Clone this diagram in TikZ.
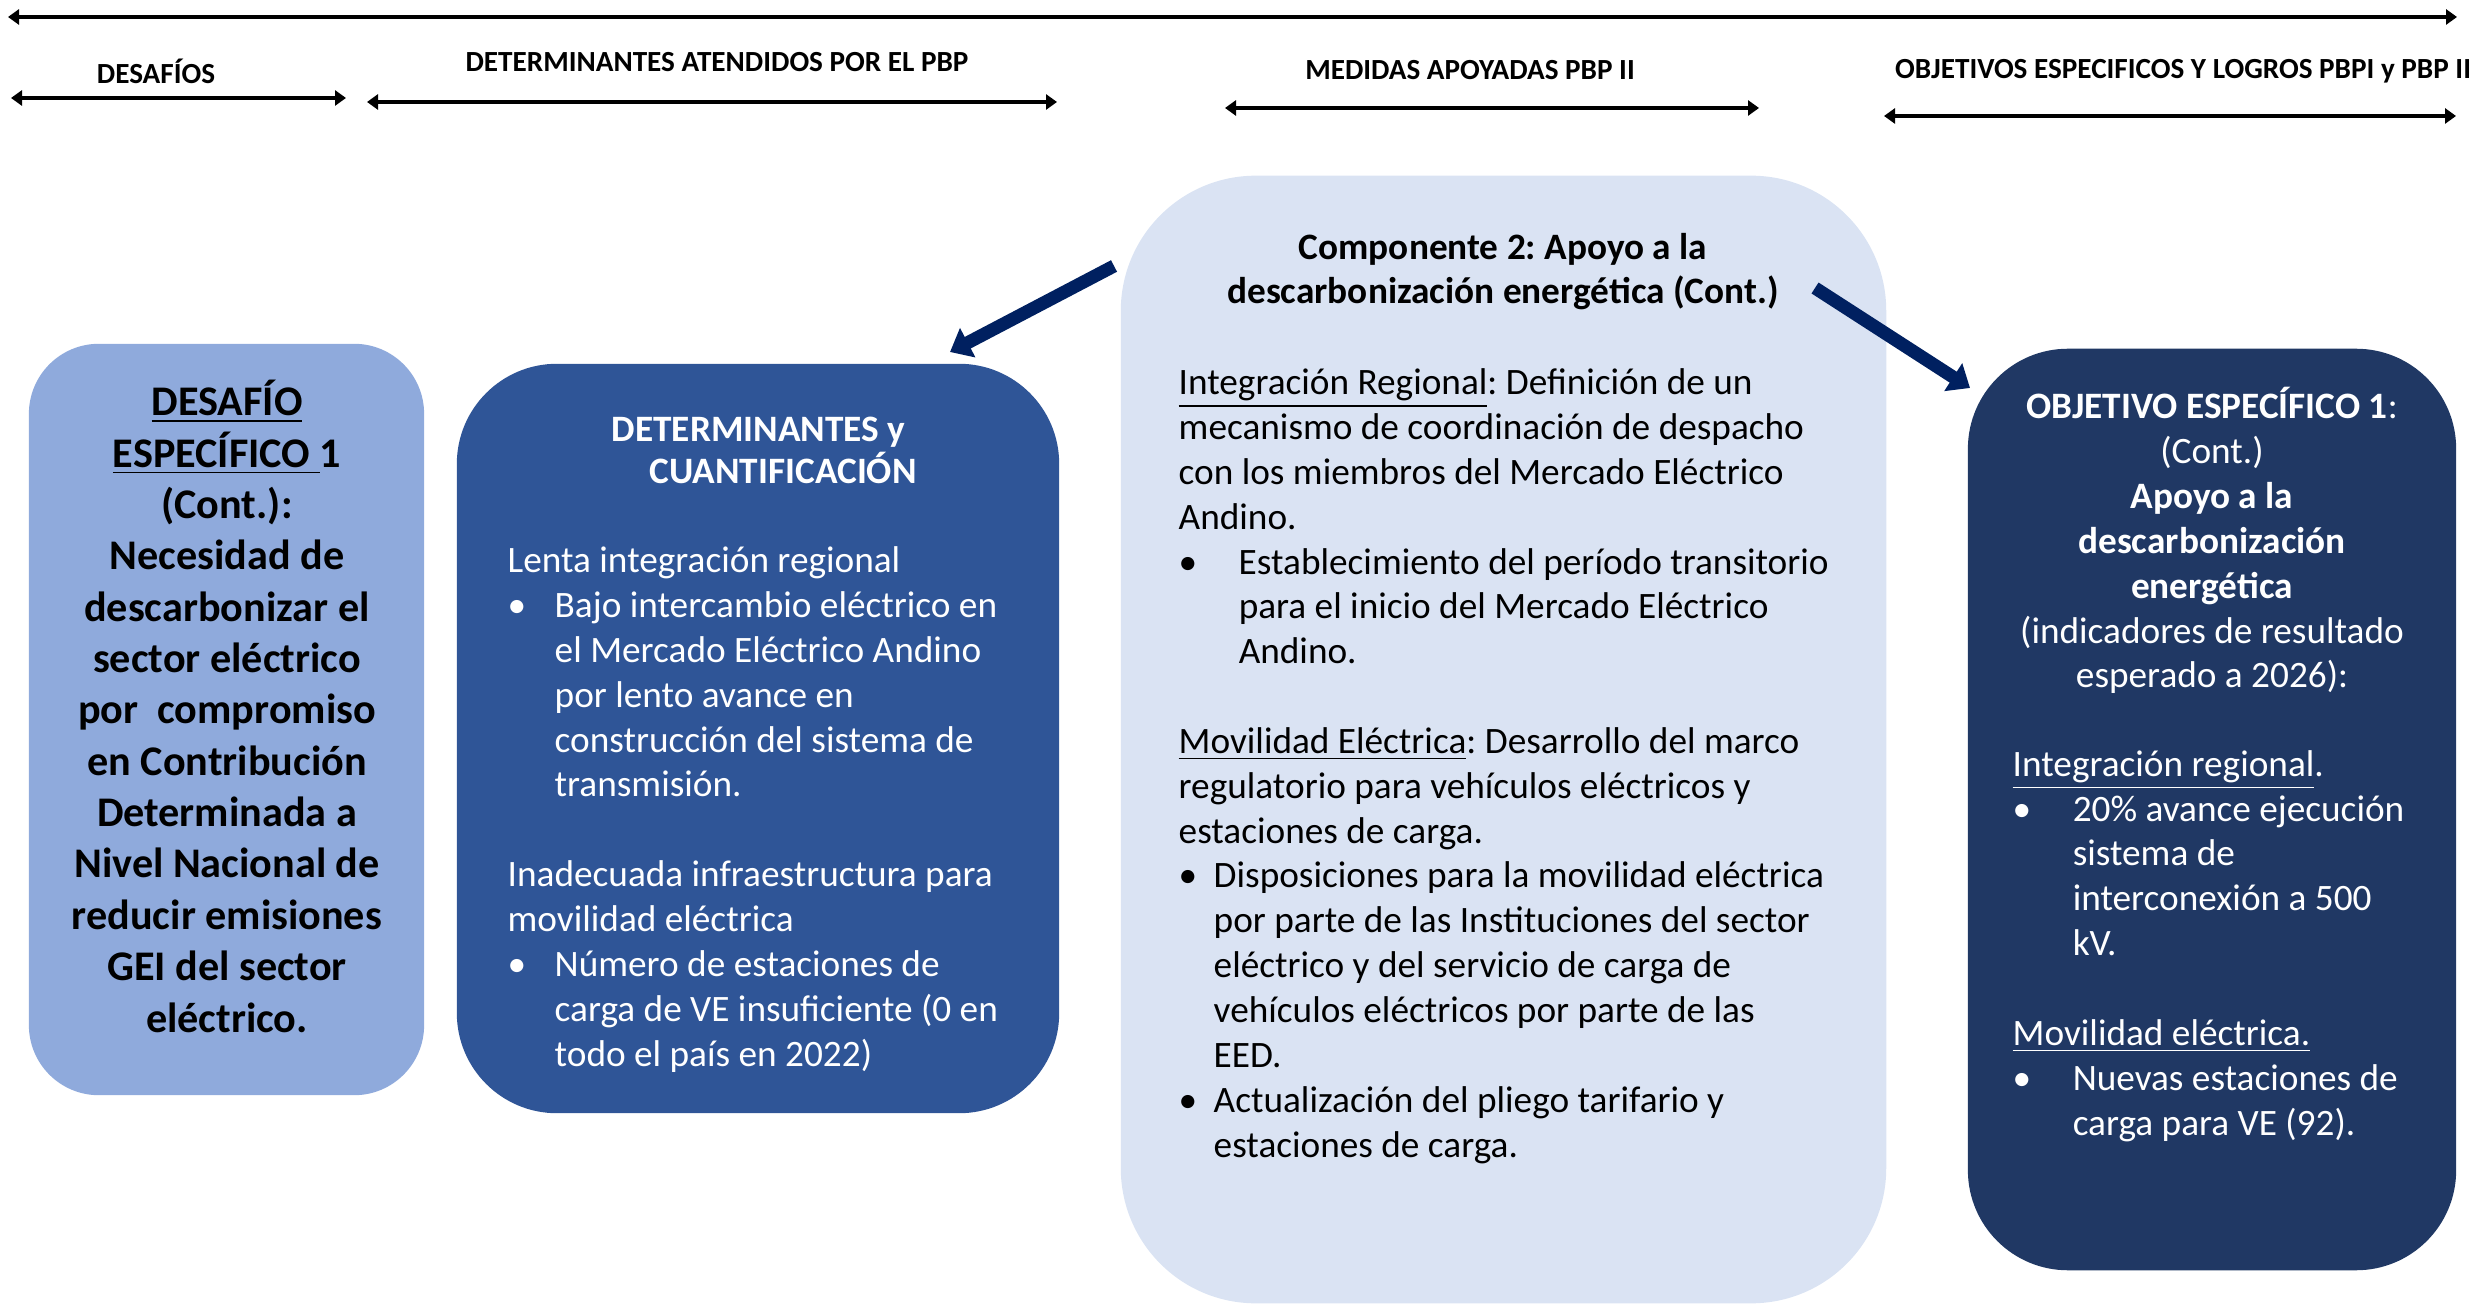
\documentclass[tikz,border=0pt]{standalone}
\usepackage{fontspec}
\setmainfont{Carlito}
\frenchspacing
\usetikzlibrary{arrows.meta,positioning}
\definecolor{desafio}{RGB}{143,170,220}
\definecolor{determ}{RGB}{47,85,151}
\definecolor{medidas}{RGB}{218,227,243}
\definecolor{objetivo}{RGB}{32,56,100}
\definecolor{flecha}{RGB}{0,32,96}
\newcommand*{\vineta}[1]{\makebox[#1][l]{\textbullet}}% bullet + gap
\newcommand*{\sangria}[1]{\hspace*{#1}}% hanging indent
\tikzset{%
  caja/.style={rectangle, inner sep=0pt},% rounded box
  texto/.style={inner sep=0pt, align=left, anchor=base west,
    font=\fontsize{10.6}{12.75}\selectfont},% body text, placed at last baseline
  titulo/.style={texto, align=center, anchor=base},% centred title
  encab/.style={inner sep=0pt, font=\fontsize{8.3}{10}\selectfont\bfseries},% column header
  rango/.style={line width=0.9pt, {Triangle[length=0.11cm,width=0.15cm]}-{Triangle[length=0.11cm,width=0.15cm]}},% span arrow
  enlace/.style={draw=flecha, line width=0.13cm, -{Triangle[length=0.2cm,width=0.32cm]}}% block arrow
}

\begin{document}
\begin{tikzpicture}[x=0.01cm, y=-0.01cm]
\useasboundingbox (0,0) rectangle (2489,1304);

% column headers and their spans
\coordinate (top-l) at (8,17);
\coordinate (top-r) at (2457,17);
\draw[rango, line width=1.1pt] (top-l) -- (top-r);
\foreach \n/\xa/\xb/\y in {desafios/11/346/98, determinantes/367/1057/102,
  medidas/1225/1759/108, objetivos/1884/2456/116}{
  \coordinate (\n-l) at (\xa,\y);
  \coordinate (\n-r) at (\xb,\y);
  \draw[rango] (\n-l) -- (\n-r);
}
\node[encab] (hdesafios) at (156,71) {DESAFÍOS};
\node[encab] (hdeterm) at (717,62) {DETERMINANTES ATENDIDOS POR EL PBP};
\node[encab] (hmedidas) at (1470,70) {MEDIDAS APOYADAS PBP II};
\node[encab] (hobjetivo) at (2183,71) {OBJETIVOS ESPECIFICOS Y LOGROS PBPI y PBP II};

% boxes
\node[caja, fill=desafio, rounded corners=0.7cm, minimum width=3.95cm, minimum height=7.51cm] (desafio) at (226.5,719.5) {};
\node[caja, fill=determ, rounded corners=1cm, minimum width=6.02cm, minimum height=7.49cm] (determ) at (758,738.5) {};
\node[caja, fill=medidas, rounded corners=1.35cm, minimum width=7.65cm, minimum height=11.27cm] (medidas) at (1503.5,739.5) {};
\node[caja, fill=objetivo, rounded corners=1cm, minimum width=4.88cm, minimum height=9.21cm] (objetivo) at (2212,809.5) {};

% desafio
\node[titulo, font=\fontsize{12}{14.6}\selectfont\bfseries] (desafiotxt) at (227,1032) {%
\underline{DESAFÍO}\\ \underline{ESPECÍFICO\ }1\\ (Cont.):\\ Necesidad de\\
descarbonizar el\\ sector eléctrico\\ por\ \ compromiso\\ en Contribución\\
Determinada a\\ Nivel Nacional de\\ reducir emisiones\\ GEI del sector\\ eléctrico.};

% determinantes
\node[texto, text=white, font=\fontsize{10.6}{12.2}\selectfont\bfseries] (determtit) at (611,484) {%
DETERMINANTES y\\ \sangria{0.38cm}CUANTIFICACIÓN};
\node[texto, text=white] (determtxt) at (507,1066) {%
Lenta integración regional\\
\vineta{0.47cm}Bajo intercambio eléctrico en\\
\sangria{0.47cm}el Mercado Eléctrico Andino\\
\sangria{0.47cm}por lento avance en\\
\sangria{0.47cm}construcción del sistema de\\
\sangria{0.47cm}transmisión.\\ \mbox{}\\
Inadecuada infraestructura para\\
movilidad eléctrica\\
\vineta{0.47cm}Número de estaciones de\\
\sangria{0.47cm}carga de VE insuficiente (0 en\\
\sangria{0.47cm}todo el país en 2022)};

% medidas
\node[titulo, font=\fontsize{10.6}{12.75}\selectfont\bfseries] (medidastit) at (1503,304) {%
Componente 2: Apoyo a la\\ descarbonización energética (Cont.)};
\node[texto] (medidastxt) at (1178,1157) {%
\underline{Integración Regional}: Definición de un\\
mecanismo de coordinación de despacho\\
con los miembros del Mercado Eléctrico\\
Andino.\\
\vineta{0.6cm}Establecimiento del período transitorio\\
\sangria{0.6cm}para el inicio del Mercado Eléctrico\\
\sangria{0.6cm}Andino.\\ \mbox{}\\
\underline{Movilidad Eléctrica}: Desarrollo del marco\\
regulatorio para vehículos eléctricos y\\
estaciones de carga.\\
\vineta{0.35cm}Disposiciones para la movilidad eléctrica\\
\sangria{0.35cm}por parte de las Instituciones del sector\\
\sangria{0.35cm}eléctrico y del servicio de carga de\\
\sangria{0.35cm}vehículos eléctricos por parte de las\\
\sangria{0.35cm}EED.\\
\vineta{0.35cm}Actualización del pliego tarifario y\\
\sangria{0.35cm}estaciones de carga.};

% objetivo
\node[titulo, text=white] (objetivotit) at (2212,688) {%
\textbf{OBJETIVO ESPECÍFICO 1}:\\ (Cont.)\\ \textbf{Apoyo a la}\\
\textbf{descarbonización}\\ \textbf{energética}\\
(indicadores de resultado\\ esperado a 2026):};
\node[texto, text=white] (objetivotxt) at (2012,1135) {%
\underline{Integración regional}.\\
\vineta{0.6cm}20\% avance ejecución\\
\sangria{0.6cm}sistema de\\
\sangria{0.6cm}interconexión a 500\\
\sangria{0.6cm}kV.\\ \mbox{}\\
\underline{Movilidad eléctrica.}\\
\vineta{0.6cm}Nuevas estaciones de\\
\sangria{0.6cm}carga para VE (92).};

% arrows out of the component box
\coordinate (f1a) at (1114,266);
\coordinate (f1b) at (950,352);
\coordinate (f2a) at (1815,288);
\coordinate (f2b) at (1970,388);
\draw[enlace] (f1a) -- (f1b);
\draw[enlace] (f2a) -- (f2b);
\end{tikzpicture}
\end{document}
